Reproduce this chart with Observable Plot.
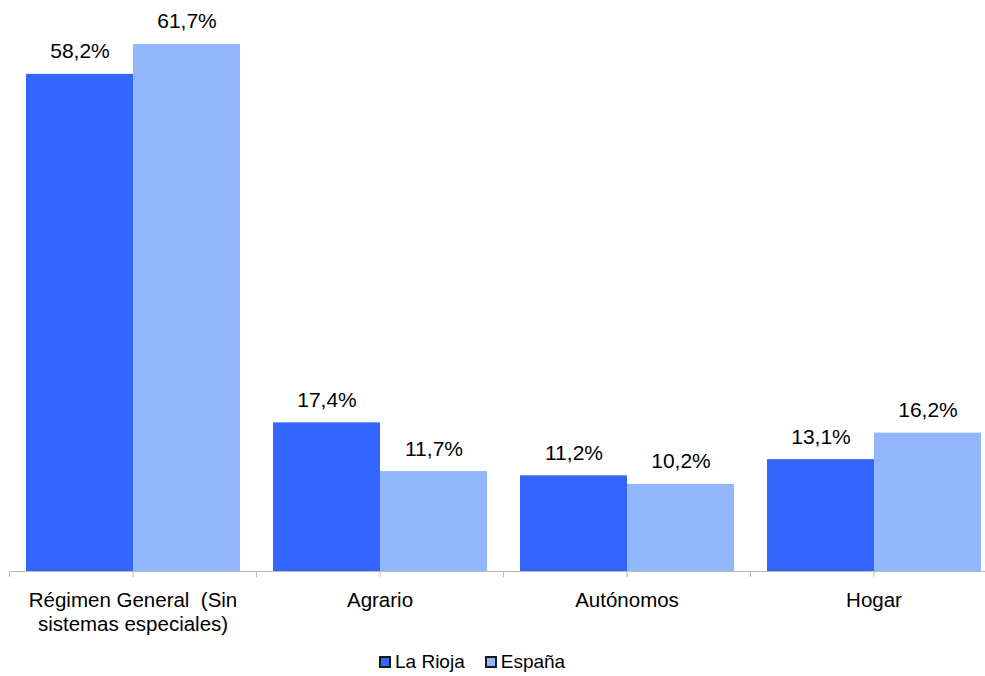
<!DOCTYPE html>
<html><head><meta charset="utf-8">
<script src="https://cdn.jsdelivr.net/npm/d3@7"></script>
<script src="https://cdn.jsdelivr.net/npm/@observablehq/plot@0.6"></script>
<style>
body{margin:0;background:#fff;font-family:"Liberation Sans",Arial,Helvetica,sans-serif;}
#chart{position:relative;width:985px;height:676px;overflow:hidden;}
#chart svg text{white-space:pre;}
.legend{position:absolute;left:379px;top:651px;display:flex;align-items:center;font-size:19px;line-height:22px;color:#000;}
.item{display:flex;align-items:center;margin-right:20px;}
.sw{width:8px;height:8px;border:2px solid #1a1a1a;margin-right:4px;}
</style></head><body>
<div id="chart"></div>
<script>
const categories = ["Régimen General  (Sin\nsistemas especiales)", "Agrario", "Autónomos", "Hogar"];
const series = ["La Rioja", "España"];
const laRioja = [58.2, 17.4, 11.2, 13.1];
const espana = [61.7, 11.7, 10.2, 16.2];
const colors = ["#3366ff", "#93b7ff"];

const data = categories.flatMap((c, i) => [
  {category: c, series: series[0], value: laRioja[i]},
  {category: c, series: series[1], value: espana[i]}
]);
const fmt = v => v.toFixed(1).replace(".", ",") + "%";
const font = '"Liberation Sans", Arial, Helvetica, sans-serif';

const plot = Plot.plot({
  width: 985, height: 645,
  marginLeft: 8, marginRight: -12, marginTop: 0, marginBottom: 74,
  style: {fontFamily: font, fontSize: "20px", color: "#000", background: "transparent"},
  fx: {domain: categories, paddingInner: 0, paddingOuter: 0, label: null},
  x: {domain: series, paddingInner: 0, paddingOuter: 0.15, axis: null},
  y: {domain: [0, 66.85], axis: null},
  color: {domain: series, range: colors},
  marks: [
    Plot.barY(data, {fx: "category", x: "series", y: "value", fill: "series", inset: 0}),
    Plot.text(data, {fx: "category", x: "series", y: "value", text: d => fmt(d.value), lineAnchor: "bottom", dy: -16, fontSize: 21, fill: "#000"}),
    Plot.ruleY([0], {stroke: "#b8b8b8", strokeWidth: 1}),
    Plot.axisFx({anchor: "bottom", tickSize: 6, tickPadding: 12, stroke: "#b8b8b8", fill: "#000", label: null, fontSize: 20.5, lineHeight: 1.18}),
    Plot.axisFx({anchor: "bottom", tickSize: 6, tickFormat: () => "", dx: -123.5, stroke: "#b8b8b8", label: null})
  ]
});
const chart = document.getElementById("chart");
chart.appendChild(plot);

const legend = document.createElement("div");
legend.className = "legend";
series.forEach((s, i) => {
  const item = document.createElement("div");
  item.className = "item";
  const sw = document.createElement("div");
  sw.className = "sw";
  sw.style.background = colors[i];
  const t = document.createElement("span");
  t.textContent = s;
  item.appendChild(sw); item.appendChild(t);
  legend.appendChild(item);
});
chart.appendChild(legend);
</script>
</body></html>
